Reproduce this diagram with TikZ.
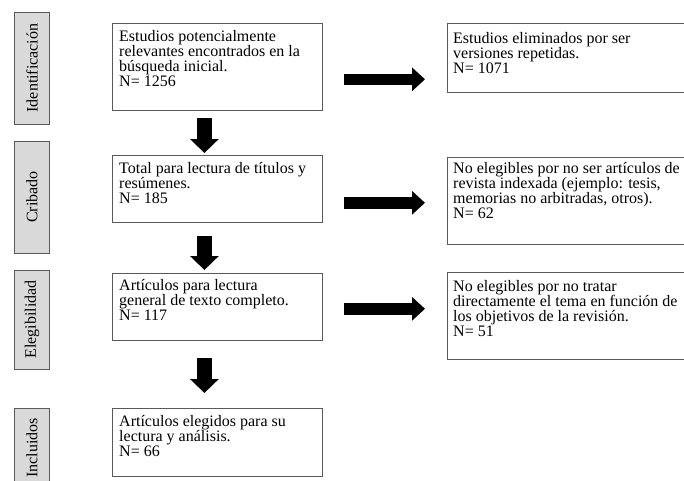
\documentclass[tikz,border=0pt]{standalone}
\usepackage{fontspec}
\setmainfont{Liberation Serif}
\usetikzlibrary{calc,arrows.meta}
\newcommand\mainfs{\fontsize{16}{15}\selectfont}
\definecolor{boxc}{HTML}{5A5A5A}
\definecolor{sidefill}{HTML}{D9D9D9}
\tikzset{
  box/.style={draw=boxc, line width=0.8pt, fill=white, inner sep=0pt, anchor=north west},
  txt/.style={anchor=base west, align=left, inner sep=0pt, font=\mainfs},
  side/.style={draw=boxc, line width=0.8pt, fill=sidefill, inner sep=0pt, rotate=90, font=\mainfs, minimum height=35pt},
  downarrow/.style={line width=15pt, black, -{Triangle[length=14pt,width=28pt]}},
  rightarrow/.style={line width=11.5pt, black, -{Triangle[length=13pt,width=23pt]}}
}
\begin{document}
\begin{tikzpicture}[x=1pt,y=-1pt]
\useasboundingbox (0,0) rectangle (684,480);
\fill[white] (0,0) rectangle (684,480);
\clip (0,0) rectangle (684,480);

% side labels
\node[side, minimum width=112pt] (s1) at (32,68) {Identificación};
\node[side, minimum width=112pt] (s2) at (32,197) {Cribado};
\node[side, minimum width=99pt] (s3) at (32,319.5) {Elegibilidad};
\node[side, minimum width=80pt] (s4) at (32,448) {Incluidos};

% main boxes (text anchored at the baseline of its last line)
\node[box, minimum width=210pt, minimum height=87pt] (b1) at (112,23) {};
\node[txt] (t1) at ($(b1.north west)+(7,63.5)$) {Estudios potencialmente\\relevantes encontrados en la\\búsqueda inicial.\\N= 1256};

\node[box, minimum width=210pt, minimum height=67pt] (b2) at (112,155) {};
\node[txt] (t2) at ($(b2.north west)+(7,48)$) {Total para lectura de títulos y\\resúmenes.\\N= 185};

\node[box, minimum width=210pt, minimum height=67pt] (b3) at (112,273) {};
\node[txt] (t3) at ($(b3.north west)+(7,47.5)$) {Artículos para lectura\\general de texto completo.\\N= 117};

\node[box, minimum width=210pt, minimum height=68pt] (b4) at (112,408) {};
\node[txt] (t4) at ($(b4.north west)+(7,48)$) {Artículos elegidos para su\\lectura y análisis.\\N= 66};

% right boxes
\node[box, minimum width=260pt, minimum height=69pt] (r1) at (447,23) {};
\node[txt] (u1) at ($(r1.north west)+(6,50)$) {Estudios eliminados por ser\\versiones repetidas.\\N= 1071};

\node[box, minimum width=260pt, minimum height=87pt] (r2) at (447,157) {};
\node[txt] (u2) at ($(r2.north west)+(6,61.5)$) {No elegibles por no ser artículos de\\revista indexada (ejemplo: tesis,\\memorias no arbitradas, otros).\\N= 62};

\node[box, minimum width=260pt, minimum height=87pt] (r3) at (447,272) {};
\node[txt] (u3) at ($(r3.north west)+(6,64.5)$) {No elegibles por no tratar\\directamente el tema en función de\\los objetivos de la revisión.\\N= 51};

% down arrows
\draw[downarrow] ($(b1.south)+(-13,7)$) -- ($(b2.north)+(-13,-2)$);
\draw[downarrow] ($(b2.south)+(-13,13)$) -- ($(b3.north)+(-13,-3)$);
\draw[downarrow] ($(b3.south)+(-13,17)$) -- ($(b4.north)+(-13,-15)$);

% right arrows
\draw[rightarrow] ($(b1.south east)+(21,-31.5)$) -- ($(b1.south east -| r1.west)+(-22,-31.5)$);
\draw[rightarrow] ($(b2.south east)+(21,-20)$) -- ($(b2.south east -| r2.west)+(-22,-20)$);
\draw[rightarrow] ($(b3.south east)+(21,-32)$) -- ($(b3.south east -| r3.west)+(-22,-32)$);
\end{tikzpicture}
\end{document}
